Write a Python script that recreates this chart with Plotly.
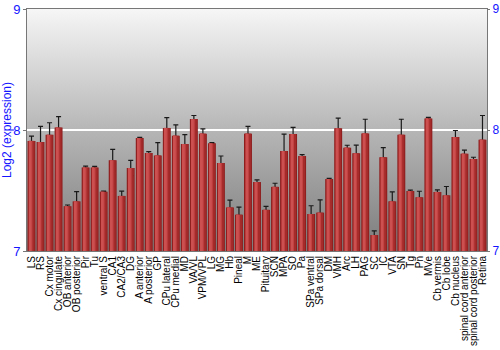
import base64
import plotly.graph_objects as go

categories = ["LS", "RS", "Cx motor", "Cx cingulate", "OB anterior", "OB posterior", "Pir", "Tu",
              "ventral S", "CA1", "CA2/CA3", "DG", "A anterior", "A posterior", "GP", "CPu lateral",
              "CPu medial", "MD", "VA/VL", "VPM/VPL", "LG", "MG", "Hb", "Pineal", "M", "ME",
              "Pituitary", "SCN", "MPA", "SO", "Pa", "SPa ventral", "SPa dorsal", "DM", "VMH", "Arc",
              "LH", "PAG", "SC", "IC", "VTA", "SN", "Tg", "Pn", "MVe", "Cb vermis", "Cb lobe",
              "Cb nucleus", "spinal cord anterior", "spinal cord posterior", "Retina"]
values = [7.91, 7.90, 7.96, 8.02, 7.37, 7.41, 7.69, 7.69,
          7.49, 7.75, 7.455, 7.686, 7.934, 7.81, 7.79, 8.017,
          7.953, 7.884, 8.09, 7.97, 7.89, 7.727, 7.36, 7.30, 7.97, 7.57,
          7.34, 7.53, 7.826, 7.967, 7.785, 7.306, 7.317, 7.595, 8.014, 7.854,
          7.807, 7.972, 7.132, 7.774, 7.41, 7.961, 7.496, 7.444, 8.096, 7.488, 7.46,
          7.942, 7.804, 7.76, 7.92]
errors = [0.04, 0.13, 0.10, 0.09, 0.01, 0.08, 0.012, 0.01,
          0.005, 0.09, 0.04, 0.063, 0.005, 0.012, 0.105, 0.085,
          0.09, 0.077, 0.03, 0.04, 0.005, 0.058, 0.06, 0.063, 0.06, 0.018,
          0.028, 0.03, 0.14, 0.055, 0.012, 0.068, 0.105, 0.005, 0.084, 0.02,
          0.068, 0.117, 0.035, 0.081, 0.078, 0.128, 0.007, 0.05, 0.008, 0.017, 0.073,
          0.054, 0.03, 0.015, 0.2]
y_ticks = [7, 8, 9]
y_title = "Log2 (expression)"

BLUE = "#1414ff"
base = 7

svg = ('<svg xmlns="http://www.w3.org/2000/svg" width="100" height="100" preserveAspectRatio="none">'
       '<defs><linearGradient id="g" x1="0" y1="0" x2="0" y2="1">'
       '<stop offset="0" stop-color="#f6f6f6"/><stop offset="0.5" stop-color="#b6b6b6"/>'
       '<stop offset="1" stop-color="#7c7c7c"/></linearGradient></defs>'
       '<rect width="100" height="100" fill="url(#g)"/></svg>')
bg_src = "data:image/svg+xml;base64," + base64.b64encode(svg.encode()).decode()

heights = [v - base for v in values]

fig = go.Figure()
fig.add_trace(go.Bar(x=categories, y=heights, base=base, width=0.88,
                     marker=dict(color="#8e1e1e", line=dict(width=0)),
                     error_y=dict(type="data", array=errors, color="#1a1a1a", thickness=1.2, width=2.5),
                     hoverinfo="skip"))
fig.add_trace(go.Bar(x=categories, y=heights, base=base, width=0.66,
                     marker=dict(color="#a52b2b", line=dict(width=0)), hoverinfo="skip"))
fig.add_trace(go.Bar(x=categories, y=heights, base=base, width=0.40, offset=-0.30,
                     marker=dict(color="#c24242", line=dict(width=0)), hoverinfo="skip"))
fig.add_trace(go.Bar(x=categories, y=heights, base=base, width=0.2, offset=-0.22, yaxis="y2",
                     marker=dict(color="#cc5050", line=dict(width=0)), hoverinfo="skip"))

fig.update_layout(
    width=500, height=350,
    margin=dict(l=27, r=13, t=9, b=99),
    barmode="overlay",
    showlegend=False,
    paper_bgcolor="white",
    plot_bgcolor="rgba(0,0,0,0)",
    font=dict(family="Liberation Sans, Arial, sans-serif", size=11, color="black"),
    images=[dict(source=bg_src, xref="paper", yref="paper", x=0, y=1, sizex=1, sizey=1,
                 sizing="stretch", layer="below")],
    xaxis=dict(tickangle=-90, showgrid=False, showline=True, linecolor="#777777", linewidth=1,
               mirror=True, ticks="", tickmode="array", tickvals=categories, ticktext=categories,
               tickfont=dict(size=10, color="black"), automargin=False),
    yaxis=dict(range=[7, 9], tickvals=y_ticks, ticks="outside", ticklen=3, tickcolor="#777777",
               showline=True, linecolor="#777777", linewidth=1,
               gridcolor="white", gridwidth=1.5, zeroline=False,
               tickfont=dict(size=13, color=BLUE),
               title=dict(text=y_title, font=dict(size=12, color=BLUE), standoff=4),
               automargin=False),
    yaxis2=dict(range=[7, 9], tickvals=y_ticks, overlaying="y", side="right", matches="y",
                ticks="outside", ticklen=2, tickcolor="#777777", showline=True,
                linecolor="#777777", linewidth=1, showgrid=False, zeroline=False,
                tickfont=dict(size=12, color=BLUE), automargin=False),
)

fig.write_html("out.html")
